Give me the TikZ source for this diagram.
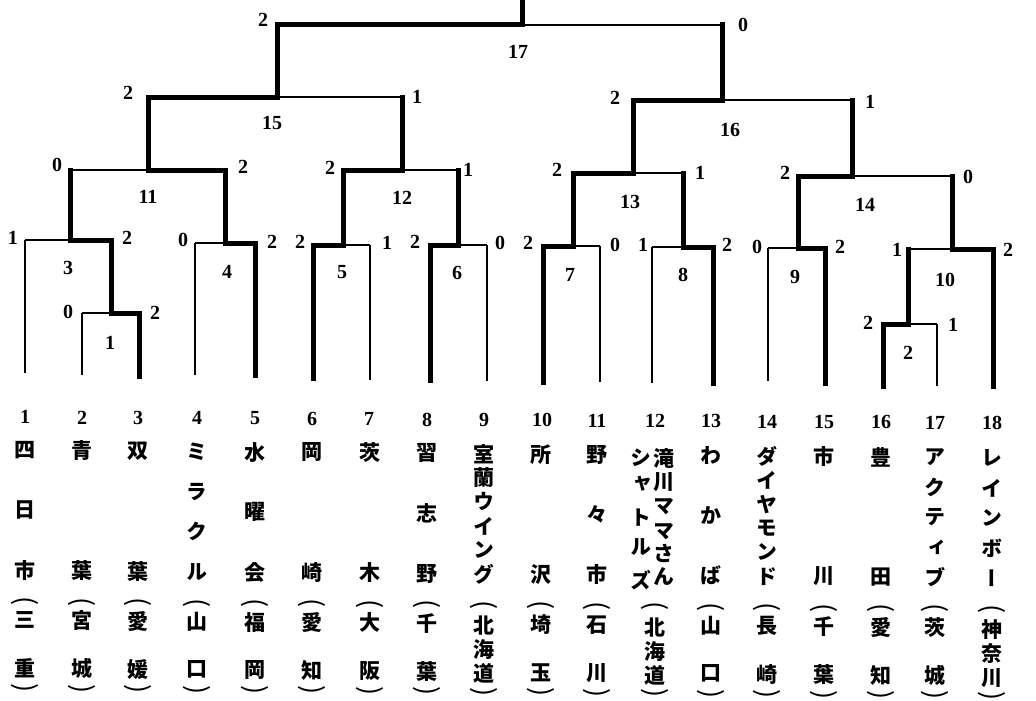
\documentclass[tikz,border=0pt]{standalone}
\usepackage{fontspec}
\setmainfont{Liberation Serif}
\newfontfamily\jp[RawFeature=+vert]{Noto Sans CJK JP}
\newfontfamily\jpp{Noto Sans CJK JP}
\begin{document}
\begin{tikzpicture}[x=1pt,y=-1pt,
  lose/.style={line width=1.5pt},
  win/.style={line width=5pt,line cap=rect},
  num/.style={font=\fontsize{20}{20}\selectfont\bfseries, inner sep=0pt},
  jpc/.style={font=\fontsize{21}{21}\selectfont\jp\bfseries, inner sep=0pt},
  par/.style={font=\fontsize{27}{27}\selectfont\jpp, inner sep=0pt, rotate=-90}]
\useasboundingbox (0,0) rectangle (1036,701);
% team line bottoms
\foreach \t/\x/\b in {1/25/373,2/82/375,3/139/376,4/195/375,5/255/375,6/313/378,7/370/380,8/430/380,9/487/381,
  10/543/382,11/600/382,12/652/383,13/713/383,14/768/381,15/825/383,16/883/386,17/937/386,18/993/386}
  {\coordinate (T\t) at (\x,\b);}
% matches: name / y / left x / mid x / right x
\foreach \m/\y/\l/\c/\r in {1/313/82/111/139, 3/240/25/70/111, 4/243/195/225/255, 11/170/70/148/225,
  5/245/313/343/370, 6/245/430/458/487, 12/170/343/402/458, 15/97/148/277/402,
  7/246/543/573/600, 8/247/652/683/713, 13/173/573/633/683, 9/248/768/798/825,
  2/324/883/908/937, 10/249/908/952/993, 14/176/798/852/952, 16/100/633/722/852, 17/25/277/522/722}
  {\coordinate (M\m) at (\c,\y); \coordinate (M\m L) at (\l,\y); \coordinate (M\m R) at (\r,\y);}
\coordinate (top) at (522,-5);
% losing lines
\foreach \a/\b in {M1L/M1, M3L/M3, M4L/M4, M11L/M11, M5/M5R, M6/M6R, M12/M12R, M15/M15R, M7/M7R, M8L/M8,
  M13/M13R, M9L/M9, M2/M2R, M10L/M10, M14/M14R, M16/M16R, M17/M17R,
  T1/M3L, T2/M1L, T4/M4L, T7/M5R, T9/M6R, T11/M7R, T12/M8L, T14/M9L, T17/M2R}
  {\draw[lose] (\a) -- (\b);}
% winning lines
\foreach \a/\b in {M1/M1R, M3/M3R, M4/M4R, M11/M11R, M5L/M5, M6L/M6, M12L/M12, M15L/M15, M7L/M7, M8/M8R,
  M13L/M13, M9/M9R, M2L/M2, M10/M10R, M14L/M14, M16L/M16, M17L/M17,
  T3/M1R, T5/M4R, T6/M5L, T8/M6L, T10/M7L, T13/M8R, T15/M9R, T16/M2L, T18/M10R,
  M1/M3R, M3/M11L, M4/M11R, M5/M12L, M6/M12R, M11/M15L, M12/M15R, M7/M13L, M8/M13R, M9/M14L,
  M2/M10L, M10/M14R, M13/M16L, M14/M16R, M15/M17L, M16/M17R, M17/top}
  {\draw[win] (\a) -- (\b);}
% scores and match numbers
\foreach \n/\x/\y/\s in {s17a/263/20/2, s17b/743/25/0, m17/518/52/17,
  s15a/128/93/2, s15b/417/97/1, m15/272/123/15,
  s16a/615/98/2, s16b/870/102/1, m16/730/130/16,
  s11a/57/165/0, s11b/243/167/2, m11/148/197/11,
  s12a/330/168/2, s12b/468/170/1, m12/402/198/12,
  s13a/557/170/2, s13b/700/173/1, m13/630/202/13,
  s14a/785/173/2, s14b/968/177/0, m14/865/205/14,
  s3a/13/238/1, s3b/127/238/2, m3/68/268/3,
  s1a/68/312/0, s1b/155/313/2, m1/110/343/1,
  s4a/183/240/0, s4b/272/242/2, m4/227/272/4,
  s5a/300/242/2, s5b/387/243/1, m5/342/272/5,
  s6a/415/242/2, s6b/500/243/0, m6/457/273/6,
  s7a/528/243/2, s7b/615/245/0, m7/570/275/7,
  s8a/643/245/1, s8b/727/245/2, m8/683/275/8,
  s9a/757/247/0, s9b/840/247/2, m9/795/277/9,
  s10a/897/250/1, s10b/1008/250/2, m10/945/280/10,
  s2a/868/323/2, s2b/953/325/1, m2/908/353/2}
  {\node[num] (\n) at (\x,\y) {\s};}
% team numbers
\foreach \t/\x in {1/25,2/82,3/138,4/197,5/255,6/312,7/369,8/427,9/484,10/542,11/597,12/655,13/711,14/767,15/824,16/881,17/935,18/992}
  {\node[num] (n\t) at (\x,{417+0.006*\x}) {\t};}
% team names (vertical)
\foreach \t/\x/\n/\l in {
  1/25/3/{四,日,市}, 2/82/2/{青,葉}, 3/138/2/{双,葉}, 4/197/4/{ミ,ラ,ク,ル},
  5/255/3/{水,曜,会}, 6/312/2/{岡,崎}, 7/370/2/{茨,木}, 8/427/3/{習,志,野},
  9/484/6/{室,蘭,ウ,イ,ン,グ}, 10/541/2/{所,沢}, 11/597/3/{野,々,市},
  13/711/3/{わ,か,ば}, 14/767/6/{ダ,イ,ヤ,モ,ン,ド}, 15/824/2/{市,川},
  16/881/2/{豊,田}, 17/935/5/{ア,ク,テ,ィ,ブ}, 18/992/5/{レ,イ,ン,ボ,ー}}
  {\foreach \c [count=\i] in \l {\node[jpc] (nm\t-\i) at (\x,{450+(\i-1)*120/(\n-1)+0.008*\x}) {\c};}}
% team 12: two columns
\foreach \c/\y [count=\i] in {滝/458,川/482,マ/507,マ/532,さ/554,ん/577}
  {\node[jpc] (nm12a-\i) at (664,\y) {\c};}
\foreach \c/\y [count=\i] in {シ/458,ャ/484,ト/518,ル/547,ズ/580}
  {\node[jpc] (nm12b-\i) at (641,\y) {\c};}
% prefectures
\foreach \t/\x/\n/\l in {
  1/25/2/{三,重}, 2/82/2/{宮,城}, 3/138/2/{愛,媛}, 4/197/2/{山,口}, 5/255/2/{福,岡},
  6/312/2/{愛,知}, 7/370/2/{大,阪}, 8/427/2/{千,葉}, 9/484/3/{北,海,道},
  10/541/2/{埼,玉}, 11/597/2/{石,川}, 12/655/3/{北,海,道}, 13/711/2/{山,口},
  14/767/2/{長,崎}, 15/824/2/{千,葉}, 16/881/2/{愛,知}, 17/935/2/{茨,城}, 18/992/3/{神,奈,川}}
  {\foreach \c [count=\i] in \l {\node[jpc] (pf\t-\i) at (\x,{620+(\n-2)*2+(\i-1)*48/(\n-1)+0.008*\x}) {\c};}
   \node[par] (po\t) at (\x,{601+0.008*\x}) {(};
   \node[par] (pc\t) at (\x,{688+0.008*\x}) {)};}
\end{tikzpicture}
\end{document}
